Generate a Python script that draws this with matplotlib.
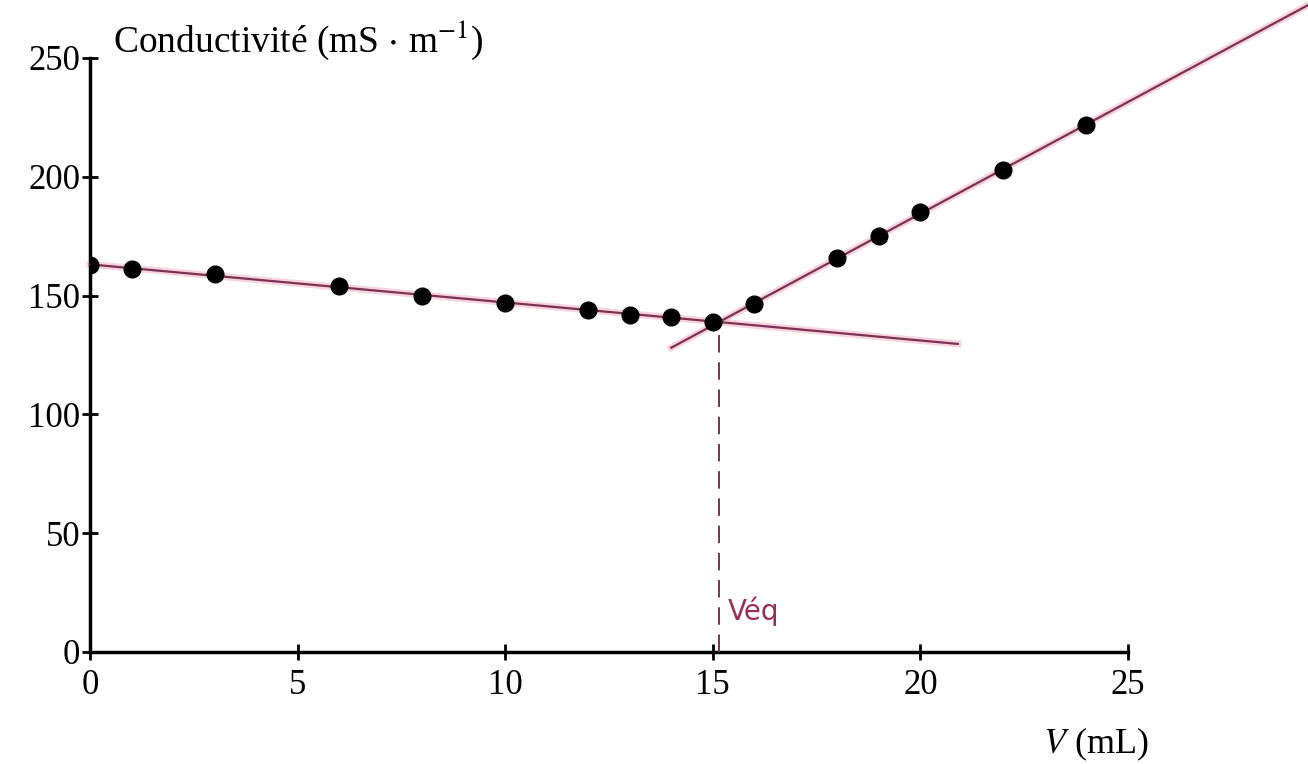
import numpy as np
import matplotlib
matplotlib.use("Agg")
import matplotlib.pyplot as plt

# Données du dosage conductimétrique
volumes = [0, 1, 3, 6, 8, 10, 12, 13, 14, 15, 16, 18, 19, 20, 22, 24]
conductivite = [163, 161, 159, 154, 150, 147, 144, 142, 141, 139,
                146.5, 166, 175, 185, 203, 222]

# Domaines de tracé des deux droites (avant / après équivalence)
plage_avant = [0, 20.9]
plage_apres = [14.0, 29.4]

plt.rcParams['font.family'] = ['Liberation Serif', 'DejaVu Serif']
plt.rcParams['mathtext.fontset'] = 'stix'

x = np.array(volumes)
y = np.array(conductivite)

# Régressions linéaires sur chaque partie
p1 = np.polyfit(x[x <= 15], y[x <= 15], 1)
p2 = np.polyfit(x[x >= 16], y[x >= 16], 1)
v_eq = (p1[1] - p2[1]) / (p2[0] - p1[0])
s_eq = np.polyval(p1, v_eq)

fig = plt.figure(figsize=(13.08, 7.64), dpi=100)
ax = fig.add_axes([0.0688, 0.1466, 0.7936, 0.7775])

couleur = '#7a3350'
halo = '#f2a8c0'

x1 = np.array(plage_avant)
x2 = np.array(plage_apres)
for xx, p in [(x1, p1), (x2, p2)]:
    ax.plot(xx, np.polyval(p, xx), color=halo, lw=5, alpha=0.5, clip_on=False, zorder=2)
    ax.plot(xx, np.polyval(p, xx), color=couleur, lw=1.6, clip_on=False, zorder=3)

ax.plot([v_eq, v_eq], [0, s_eq - 2], color=couleur, lw=1.4, ls=(0, (9, 5)), zorder=3)

ax.plot(x, y, 'o', color='black', ms=12, zorder=4)

ax.text(v_eq + 0.2, 11, 'Véq', color='#9a2f55', fontsize=20,
        family=['DejaVu Sans'], ha='left', va='bottom')

ax.set_xlim(0, 25)
ax.set_ylim(0, 250)
ax.set_xticks([0, 5, 10, 15, 20, 25])
ax.set_yticks([0, 50, 100, 150, 200, 250])
ax.spines['top'].set_visible(False)
ax.spines['right'].set_visible(False)
ax.spines['left'].set_linewidth(2.5)
ax.spines['bottom'].set_linewidth(2.5)
ax.tick_params(axis='both', direction='inout', length=12, width=2, labelsize=25)
ax.tick_params(axis='x', pad=6)
ax.tick_params(axis='y', pad=1)

ax.text(0.022, 1.03, r'Conductivité (mS $\cdot$ m$^{-1}$)', transform=ax.transAxes,
        fontsize=27, ha='left', va='center')
ax.text(1.02, -0.155, r'$V$ (mL)', transform=ax.transAxes,
        fontsize=26, ha='right', va='center')

fig.savefig('out.png', dpi=100)
